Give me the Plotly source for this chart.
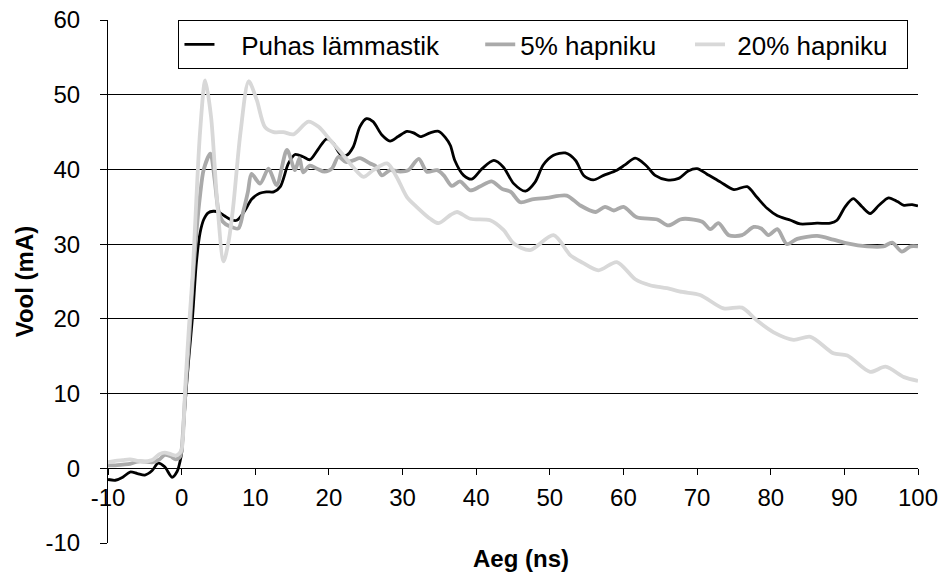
import plotly.graph_objects as go

# Time axis (ns) and current (mA) for each gas mixture
t_n2 = [-10, -9, -8, -7, -6, -5, -4, -3.2, -2.3, -1.3, -0.6, -0.2, 0, 0.5, 1, 1.5, 2, 2.5, 3,
        3.6, 4.3, 5, 5.8, 6.6, 7.5, 8.6, 9.5, 10.6, 11.5, 12.5, 13.4, 14.5, 15.4, 16.5, 17.4,
        18.6, 19.7, 20.6, 21.5, 22.4, 23.3, 24.2, 25.1, 26.0, 27.2, 28.3, 29.4, 30.6, 31.5,
        32.4, 33.75, 34.9, 35.8, 36.5, 37.1, 38.3, 39.4, 40.8, 42.4, 43.7, 45.1, 46.7, 48.0,
        49.1, 50.5, 52.1, 53.5, 54.6, 55.9, 57.3, 59.1, 60.2, 61.6, 63.0, 64.3, 65.9, 67.5,
        68.8, 70.0, 71.3, 73.2, 75.0, 76.8, 78.1, 79.5, 80.9, 82.7, 84.0, 86.3, 88.1, 89.0,
        90.1, 91.2, 92.4, 93.5, 94.7, 96.0, 97.2, 98.1, 99.2, 100]
i_n2 = [-1.5, -1.6, -1.2, -0.5, -0.7, -0.9, -0.3, 0.7, 0.2, -1.2, -0.4, 1.0, 2.0, 9.0, 15.0, 20.5,
        27.5, 31.5, 33.3, 34.2, 34.4, 34.3, 33.8, 33.3, 33.2, 34.5, 36.0, 36.8, 37.0, 37.0,
        37.7, 40.8, 42.0, 41.7, 41.3, 42.8, 44.1, 43.5, 42.1, 41.9, 43.0, 45.7, 46.8, 46.4,
        44.6, 43.8, 44.4, 45.1, 44.9, 44.4, 44.9, 45.1, 44.3, 43.2, 41.2, 39.2, 38.7, 40.1,
        41.2, 40.3, 38.1, 37.1, 38.3, 40.6, 41.9, 42.2, 41.2, 39.2, 38.6, 39.2, 39.9, 40.6,
        41.5, 40.6, 39.2, 38.6, 38.8, 39.8, 40.1, 39.4, 38.3, 37.3, 37.7, 36.3, 34.8, 33.8,
        33.2, 32.7, 32.8, 32.8, 33.2, 35.0, 36.1, 35.0, 34.1, 35.2, 36.2, 35.7, 35.2, 35.3, 35.1]

t_o5 = [-10, -9, -8, -7, -6, -5, -4, -3, -2.3, -1.5, -0.8, -0.2, 0, 0.5, 1, 1.5, 2, 2.5, 3,
        3.9, 4.5, 5, 5.6, 6.5, 7.7, 8.4, 9.0, 9.5, 10.65, 11.8, 12.9, 14.3, 15.4, 16.0, 16.5,
        17.4, 18.4, 19.4, 20.4, 21.3, 22.3, 23.3, 24.2, 25.6, 26.4, 27.2, 28.3, 29.7, 30.8,
        32.2, 33.3, 34.7, 35.6, 36.7, 37.8, 39.2, 40.5, 42.1, 43.5, 44.7, 46.0, 47.6, 49.6,
        52.3, 54.1, 56.2, 57.5, 58.7, 60.0, 61.8, 64.6, 66.1, 67.7, 68.4, 70.7, 71.8, 72.9,
        74.3, 76.1, 77.7, 78.7, 79.7, 80.9, 82.2, 83.6, 86.3, 88.5, 90.4, 93.1, 95.3, 96.5,
        97.8, 99.0, 100]
i_o5 = [0.4, 0.4, 0.5, 0.6, 0.9, 0.9, 0.8, 1.2, 1.8, 1.6, 1.2, 1.6, 2.5, 10.0, 17.0, 25.0,
        31.5, 36.5, 40.0, 42.1, 38.5, 34.5, 33.0, 32.4, 32.1, 34.5, 37.0, 39.4, 38.1, 40.1,
        37.9, 42.6, 39.9, 41.5, 39.6, 40.5, 40.1, 39.7, 40.1, 41.7, 41.0, 41.2, 41.5, 40.8,
        40.4, 39.2, 39.9, 39.7, 39.9, 41.4, 39.7, 39.9, 39.2, 37.8, 38.4, 37.2, 37.7, 38.4,
        37.4, 37.0, 35.6, 36.0, 36.2, 36.5, 35.2, 34.3, 35.0, 34.5, 35.0, 33.6, 33.3, 32.5,
        33.3, 33.4, 33.0, 32.0, 32.8, 31.2, 31.2, 32.3, 32.1, 31.2, 32.0, 30.0, 30.7, 31.1,
        30.6, 30.1, 29.7, 29.7, 30.2, 29.0, 29.7, 29.7]

t_o20 = [-10, -9, -8, -7, -6, -5, -4, -3, -2.3, -1.5, -0.8, -0.3, 0, 0.5, 1, 1.5, 2, 2.5,
         3.2, 4.0, 4.8, 5.7, 6.4, 7.0, 8.0, 9.1, 10.2, 11.3, 12.5, 13.8, 15.2, 17.2, 18.6,
         20.2, 21.8, 23.3, 24.7, 26.0, 27.9, 29.2, 30.6, 31.9, 33.75, 34.9, 36.5, 37.4, 39.2,
         41.9, 43.7, 45.1, 47.3, 50.5, 52.8, 54.5, 56.6, 59.1, 61.6, 63.6, 65.9, 68.0, 70.4,
         73.6, 76.1, 78.1, 80.4, 83.1, 85.4, 88.5, 90.4, 93.5, 95.6, 98.1, 100]
i_o20 = [0.8, 1.0, 1.1, 1.2, 1.0, 0.9, 1.1, 1.9, 2.1, 1.9, 1.7, 2.0, 2.5, 11.0, 19.0, 26.0,
         36.0, 45.0, 51.9, 47.0, 36.0, 27.7, 30.5, 35.0, 45.0, 51.8, 49.3, 45.7, 45.0, 45.0,
         44.7, 46.4, 45.7, 43.9, 42.1, 40.3, 39.0, 39.9, 40.8, 39.0, 36.3, 35.0, 33.4, 32.8,
         33.9, 34.3, 33.4, 33.2, 31.9, 30.1, 29.2, 31.2, 28.5, 27.5, 26.5, 27.6, 25.3, 24.5,
         24.1, 23.6, 23.2, 21.4, 21.5, 19.8, 18.2, 17.2, 17.6, 15.4, 15.1, 12.9, 13.6, 12.2,
         11.7]

# Axis ticks (plain hyphen for negatives)
x_ticks = list(range(-10, 101, 10))
x_tick_text = [str(v) for v in x_ticks]
y_ticks = list(range(-10, 61, 10))
y_tick_text = [str(v) for v in y_ticks]

# Legend labels, padded with no-break spaces to spread the entries out
NB = "\u00a0"
names = ["Puhas lämmastik", "5% hapniku", "20% hapniku"]
legend_names = [NB * 3 + names[0] + NB * 5,
                names[1] + NB * 4,
                NB + names[2] + NB * 2]

FONT = "Liberation Sans, Arial, sans-serif"

fig = go.Figure()
fig.add_trace(go.Scatter(x=t_n2, y=i_n2, mode="lines", name=legend_names[0],
                         line=dict(color="#000000", width=2.8, shape="spline", smoothing=0.8)))
fig.add_trace(go.Scatter(x=t_o5, y=i_o5, mode="lines", name=legend_names[1],
                         line=dict(color="#aaaaaa", width=3.8, shape="spline", smoothing=0.8)))
fig.add_trace(go.Scatter(x=t_o20, y=i_o20, mode="lines", name=legend_names[2],
                         line=dict(color="#d8d8d8", width=3.8, shape="spline", smoothing=0.8)))

fig.update_layout(
    template="none",
    width=942, height=573,
    margin=dict(l=108, r=24, t=20, b=30, autoexpand=False),
    paper_bgcolor="white", plot_bgcolor="white",
    font=dict(family=FONT, size=24, color="black"),
    showlegend=True,
    legend=dict(orientation="h", x=0.087, y=1.0, xanchor="left", yanchor="top",
                bgcolor="white", bordercolor="black", borderwidth=1,
                font=dict(family=FONT, size=26, color="black"),
                itemwidth=30, traceorder="normal"),
    xaxis=dict(range=[-10, 100], tickmode="array", tickvals=x_ticks, ticktext=x_tick_text,
               showgrid=False, zeroline=False, automargin=False,
               showline=True, linecolor="black", linewidth=1,
               ticks="outside", ticklen=6, tickcolor="black",
               anchor="free", position=1/7, ticklabelstandoff=2,
               tickfont=dict(family=FONT, size=24, color="black")),
    yaxis=dict(range=[-10, 60], tickmode="array", tickvals=y_ticks, ticktext=y_tick_text,
               showgrid=True, gridcolor="black", gridwidth=1, automargin=False,
               zeroline=False, showline=True, linecolor="black", linewidth=1,
               ticks="outside", ticklen=7, tickcolor="black", ticklabelstandoff=15,
               tickfont=dict(family=FONT, size=24, color="black"),
               title=dict(text="<b>Vool (mA)</b>", font=dict(family=FONT, size=24),
                          standoff=5)),
    annotations=[dict(text="<b>Aeg (ns)</b>", xref="paper", yref="paper", x=0.51, y=0,
                      xanchor="center", yanchor="top", yshift=0, showarrow=False,
                      font=dict(family=FONT, size=24, color="black"))],
)

fig.write_html("out.html")
